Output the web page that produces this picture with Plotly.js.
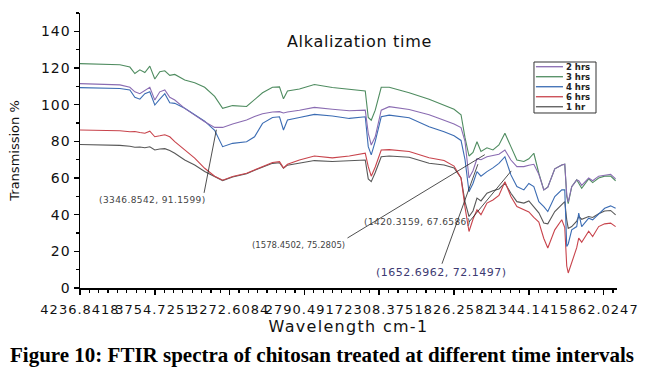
<!DOCTYPE html>
<html><head><meta charset="utf-8">
<script src="https://cdn.plot.ly/plotly-3.0.1.min.js"></script>
<style>
html,body{margin:0;padding:0;background:#fff;}
#chart{width:645px;height:380px;}
.xtick text, .ytick text {letter-spacing:1px;}
.xtitle {letter-spacing:1.3px;}
.gtitle {letter-spacing:0.7px;}
.annotation[data-index="0"] text, .annotation[data-index="2"] text {letter-spacing:0.4px;}
.annotation[data-index="3"] text {letter-spacing:0.5px;}
</style></head><body><div id="chart"></div>
<script>
// wavenumber (cm-1)
const wavenumber = [4236.8, 4108.3, 3979.7, 3915.4, 3883.3, 3851.1, 3818.9, 3786.9, 3754.7, 3722.6,
  3690.4, 3658.3, 3626.1, 3561.9, 3497.6, 3433.3, 3369.0, 3317.6, 3253.3, 3163.3,
  3111.9, 3060.5, 2996.2, 2951.2, 2925.5, 2899.7, 2822.6, 2726.2, 2610.5, 2501.2,
  2398.4, 2379.1, 2359.8, 2334.1, 2295.5, 2244.1, 2115.5, 1986.9, 1890.5, 1826.2,
  1781.2, 1755.5, 1729.8, 1704.1, 1678.4, 1652.7, 1614.1, 1575.5, 1537.0, 1498.4,
  1459.8, 1421.2, 1376.2, 1344.1, 1312.0, 1279.8, 1247.7, 1222.0, 1177.0, 1132.0,
  1112.7, 1099.9, 1090.3, 1067.8, 1035.6, 1022.7, 1003.5, 958.5, 932.8, 894.2,
  855.6, 817.1, 784.9];

const hrs2 = [111.5, 111.3, 110.8, 109.5, 107, 106, 108, 109.5, 102.5, 107,
  108, 104, 102.5, 98, 94.3, 90.7, 87.6, 87.6, 89.5, 91.6,
  93.5, 95, 96, 96.2, 95.5, 96, 97, 98.5, 97.5, 96.7,
  97, 84.4, 78, 82.5, 97, 98.9, 97.4, 94.5, 91.5, 89.5,
  87.5, 80, 60, 64, 70.5, 70, 71.6, 72.5, 73, 75.3,
  69.8, 66.2, 66.2, 67, 67.5, 62, 53.5, 55, 65, 67.1,
  67.5, 51, 47, 55.3, 59, 58.5, 56, 60, 58.5, 61,
  61.5, 62, 59.5];

const hrs3 = [122.4, 122.3, 121.8, 120.5, 117, 119, 117.5, 121, 114, 118,
  118.5, 116, 116.5, 113.5, 112, 109.5, 104.5, 98, 99.5, 99,
  103, 106.5, 109.5, 109.7, 103.2, 107.5, 108.5, 111, 109.4, 108.5,
  107.5, 93, 91.5, 97, 109.5, 109.5, 106.5, 103, 99.5, 97.5,
  94.5, 82, 72, 74, 79.8, 74.5, 76.5, 75.3, 78, 84.4,
  77.1, 69.8, 69, 70.5, 73.5, 62.6, 53.5, 55, 65, 67.1,
  67.5, 50, 46, 55.3, 59, 57, 54.4, 59.5, 57.5, 60,
  61, 61, 58.5];

const hrs4 = [109.3, 109.2, 108.8, 108, 104, 103, 106, 107, 99.8, 103,
  106, 101, 100.7, 98, 94.3, 91, 86, 77.1, 78.9, 79.8,
  82.5, 89.8, 93, 93.4, 86.2, 91.6, 93, 94.7, 93.8, 92.5,
  93.4, 77.1, 72.6, 80, 93.4, 94.3, 92.9, 88, 85.2, 83,
  80.5, 70, 52.5, 57, 63.5, 61, 63.5, 65.5, 68, 71.6,
  61.7, 55.3, 53.5, 57, 55.3, 47.1, 44.4, 41.7, 49.9, 53.5,
  53.5, 22.6, 24, 31.7, 33.5, 40.8, 33.5, 38.1, 37.2, 40.5,
  43.5, 44.8, 43.5];

const hrs6 = [86.2, 86.1, 85.8, 85.2, 85.4, 84.8, 84.4, 85.5, 82.5, 83,
  83.6, 82.5, 79.8, 75.3, 70.8, 65.3, 61, 58.8, 60.8, 62.6,
  64.5, 66.5, 68.5, 68.9, 65.5, 67.5, 69.8, 72, 71, 72,
  73.5, 66.2, 61, 66, 75.3, 75.5, 74.5, 71, 69.5, 66.5,
  60, 44, 30.8, 37.5, 42.6, 40, 46.3, 48, 50.5, 58,
  49.9, 44.4, 42.6, 41.5, 38.5, 36, 27, 21.8, 31.7, 37.2,
  33, 12, 8.2, 14, 22, 27.2, 25, 31, 28.1, 33.5,
  35, 35.4, 33.5];

const hrs1 = [78.3, 78.2, 77.8, 77.3, 76.8, 76.9, 76.5, 77, 75.3, 75.8,
  76, 75, 73.5, 69.8, 67.1, 63.6, 60.8, 58.6, 60.5, 62.3,
  64.2, 66, 68, 68.3, 65.3, 67, 68, 69.5, 69, 69.5,
  69.8, 59.5, 58, 63, 71.6, 72, 71.3, 68, 67.1, 65.5,
  60, 47, 39, 42, 49, 47.5, 51.7, 53, 54, 57.2,
  51.7, 47.1, 46.3, 47.5, 44.5, 41, 35.5, 35, 41.7, 45.3,
  47.1, 37.2, 32.5, 33.5, 36.5, 39, 37.5, 39, 38.5, 40.5,
  42, 42.3, 39.9];

const seriesNames = ['2 hrs', '3 hrs', '4 hrs', '6 hrs', '1 hr'];
const seriesValues = [hrs2, hrs3, hrs4, hrs6, hrs1];
const seriesColors = ['#8a6cb2', '#4f8c60', '#3b6cb3', '#c8444c', '#585858'];
const drawOrder = [4, 3, 2, 1, 0];

const xTickVals = [4236.8418, 3754.7251, 3272.6084, 2790.4917, 2308.375, 1826.2582, 1344.1415, 862.0247];
const xTickText = ['4236.8418', '3754.7251', '3272.6084', '2790.4917', '2308.375', '1826.2582', '1344.1415', '862.0247'];

const peakX = [3346.8542, 1578.4502, 1420.3159, 1652.6962];
const peakY = [91.1599, 75.2805, 67.6586, 72.1497];

const labelStyle = [
  {ax: -14, ay: 72, xanchor: 'right', yanchor: 'top', size: 9, color: '#444'},
  {ax: -145, ay: 88, xanchor: 'right', yanchor: 'top', size: 8.5, color: '#444'},
  {ax: -48, ay: 58, xanchor: 'right', yanchor: 'middle', size: 9, color: '#444'},
  {ax: -39, ay: 108, xanchor: 'center', yanchor: 'top', size: 11, color: '#3d3a72'}
];

const traces = drawOrder.map(i => ({
  type: 'scatter', mode: 'lines', name: seriesNames[i],
  x: wavenumber, y: seriesValues[i],
  line: {color: seriesColors[i], width: 1.1},
  showlegend: false, hoverinfo: 'x+y+name'
}));

const annotations = peakX.map((x, i) => ({
  x: x, y: peakY[i], xref: 'x', yref: 'y',
  text: '(' + x.toFixed(4) + ', ' + peakY[i].toFixed(4) + ')',
  showarrow: true, arrowhead: 0, arrowwidth: 0.8, arrowcolor: '#222', standoff: 9,
  ax: labelStyle[i].ax, ay: labelStyle[i].ay,
  xanchor: labelStyle[i].xanchor, yanchor: labelStyle[i].yanchor,
  font: {family: 'DejaVu Sans', size: labelStyle[i].size, color: labelStyle[i].color}
}));

// legend drawn as a compact box
const legendTop = 0.8047, legendStep = 0.0364;
const shapes = [{type: 'rect', xref: 'paper', yref: 'paper', x0: 0.8454, x1: 0.9609, y0: 0.6364, y1: 0.8218,
  line: {color: '#333', width: 1}, fillcolor: 'rgba(255,255,255,0)'}];
seriesNames.forEach((n, i) => {
  const yy = legendTop - i * legendStep;
  shapes.push({type: 'line', xref: 'paper', yref: 'paper', x0: 0.849, x1: 0.8994, y0: yy, y1: yy,
    line: {color: seriesColors[i], width: 1.3}});
  annotations.push({xref: 'paper', yref: 'paper', x: 0.902, y: yy, xanchor: 'left', yanchor: 'middle',
    text: n, showarrow: false, font: {family: 'DejaVu Sans', size: 8.5, color: '#222', weight: 700}});
});

annotations.push({xref: 'paper', yref: 'paper', x: 0.4507, y: -0.245, xanchor: 'center', yanchor: 'middle',
  text: 'Figure 10: FTIR spectra of chitosan treated at different time intervals', showarrow: false,
  font: {family: 'Liberation Serif, Times New Roman, serif', size: 21, color: '#000', weight: 700}});

const layout = {
  width: 645, height: 380,
  margin: {l: 80, r: 28, t: 13, b: 92},
  paper_bgcolor: '#fff', plot_bgcolor: '#fff',
  showlegend: false,
  title: {text: 'Alkalization time', font: {family: 'DejaVu Sans', size: 16, color: '#111'},
    x: 0.5205, xref: 'paper', xanchor: 'center', y: 0.898, yref: 'paper', yanchor: 'middle'},
  xaxis: {
    range: [4236.8418, 776], tickmode: 'array', tickvals: xTickVals, ticktext: xTickText,
    ticks: 'outside', ticklen: 5, tickwidth: 1.5, tickcolor: '#000', ticklabelstandoff: 4,
    showline: true, linewidth: 1.5, linecolor: '#000', showgrid: false, zeroline: false,
    tickfont: {family: 'DejaVu Sans', size: 13, color: '#111'}, automargin: 'bottom',
    minor: {tickmode: 'linear', tick0: 862.0247, dtick: 60.2646, ticks: 'outside', ticklen: 3, tickwidth: 1.2, tickcolor: '#000', showgrid: false},
    title: {text: 'Wavelength cm-1', standoff: 0, font: {family: 'DejaVu Sans', size: 16, color: '#111'}}
  },
  yaxis: {
    range: [0, 150], tickmode: 'linear', tick0: 0, dtick: 20,
    ticks: 'outside', ticklen: 5, tickwidth: 1.5, tickcolor: '#000',
    showline: true, linewidth: 1.5, linecolor: '#000', showgrid: false, zeroline: false,
    tickfont: {family: 'DejaVu Sans', size: 14, color: '#111'}, automargin: 'left',
    minor: {dtick: 10, ticks: 'outside', ticklen: 3, tickwidth: 1.2, tickcolor: '#000', showgrid: false},
    title: {text: 'Transmission %', standoff: 18, font: {family: 'DejaVu Sans', size: 13, color: '#111'}}
  },
  annotations: annotations,
  shapes: shapes
};

Plotly.newPlot('chart', traces, layout, {displayModeBar: false, staticPlot: true});
</script></body></html>
